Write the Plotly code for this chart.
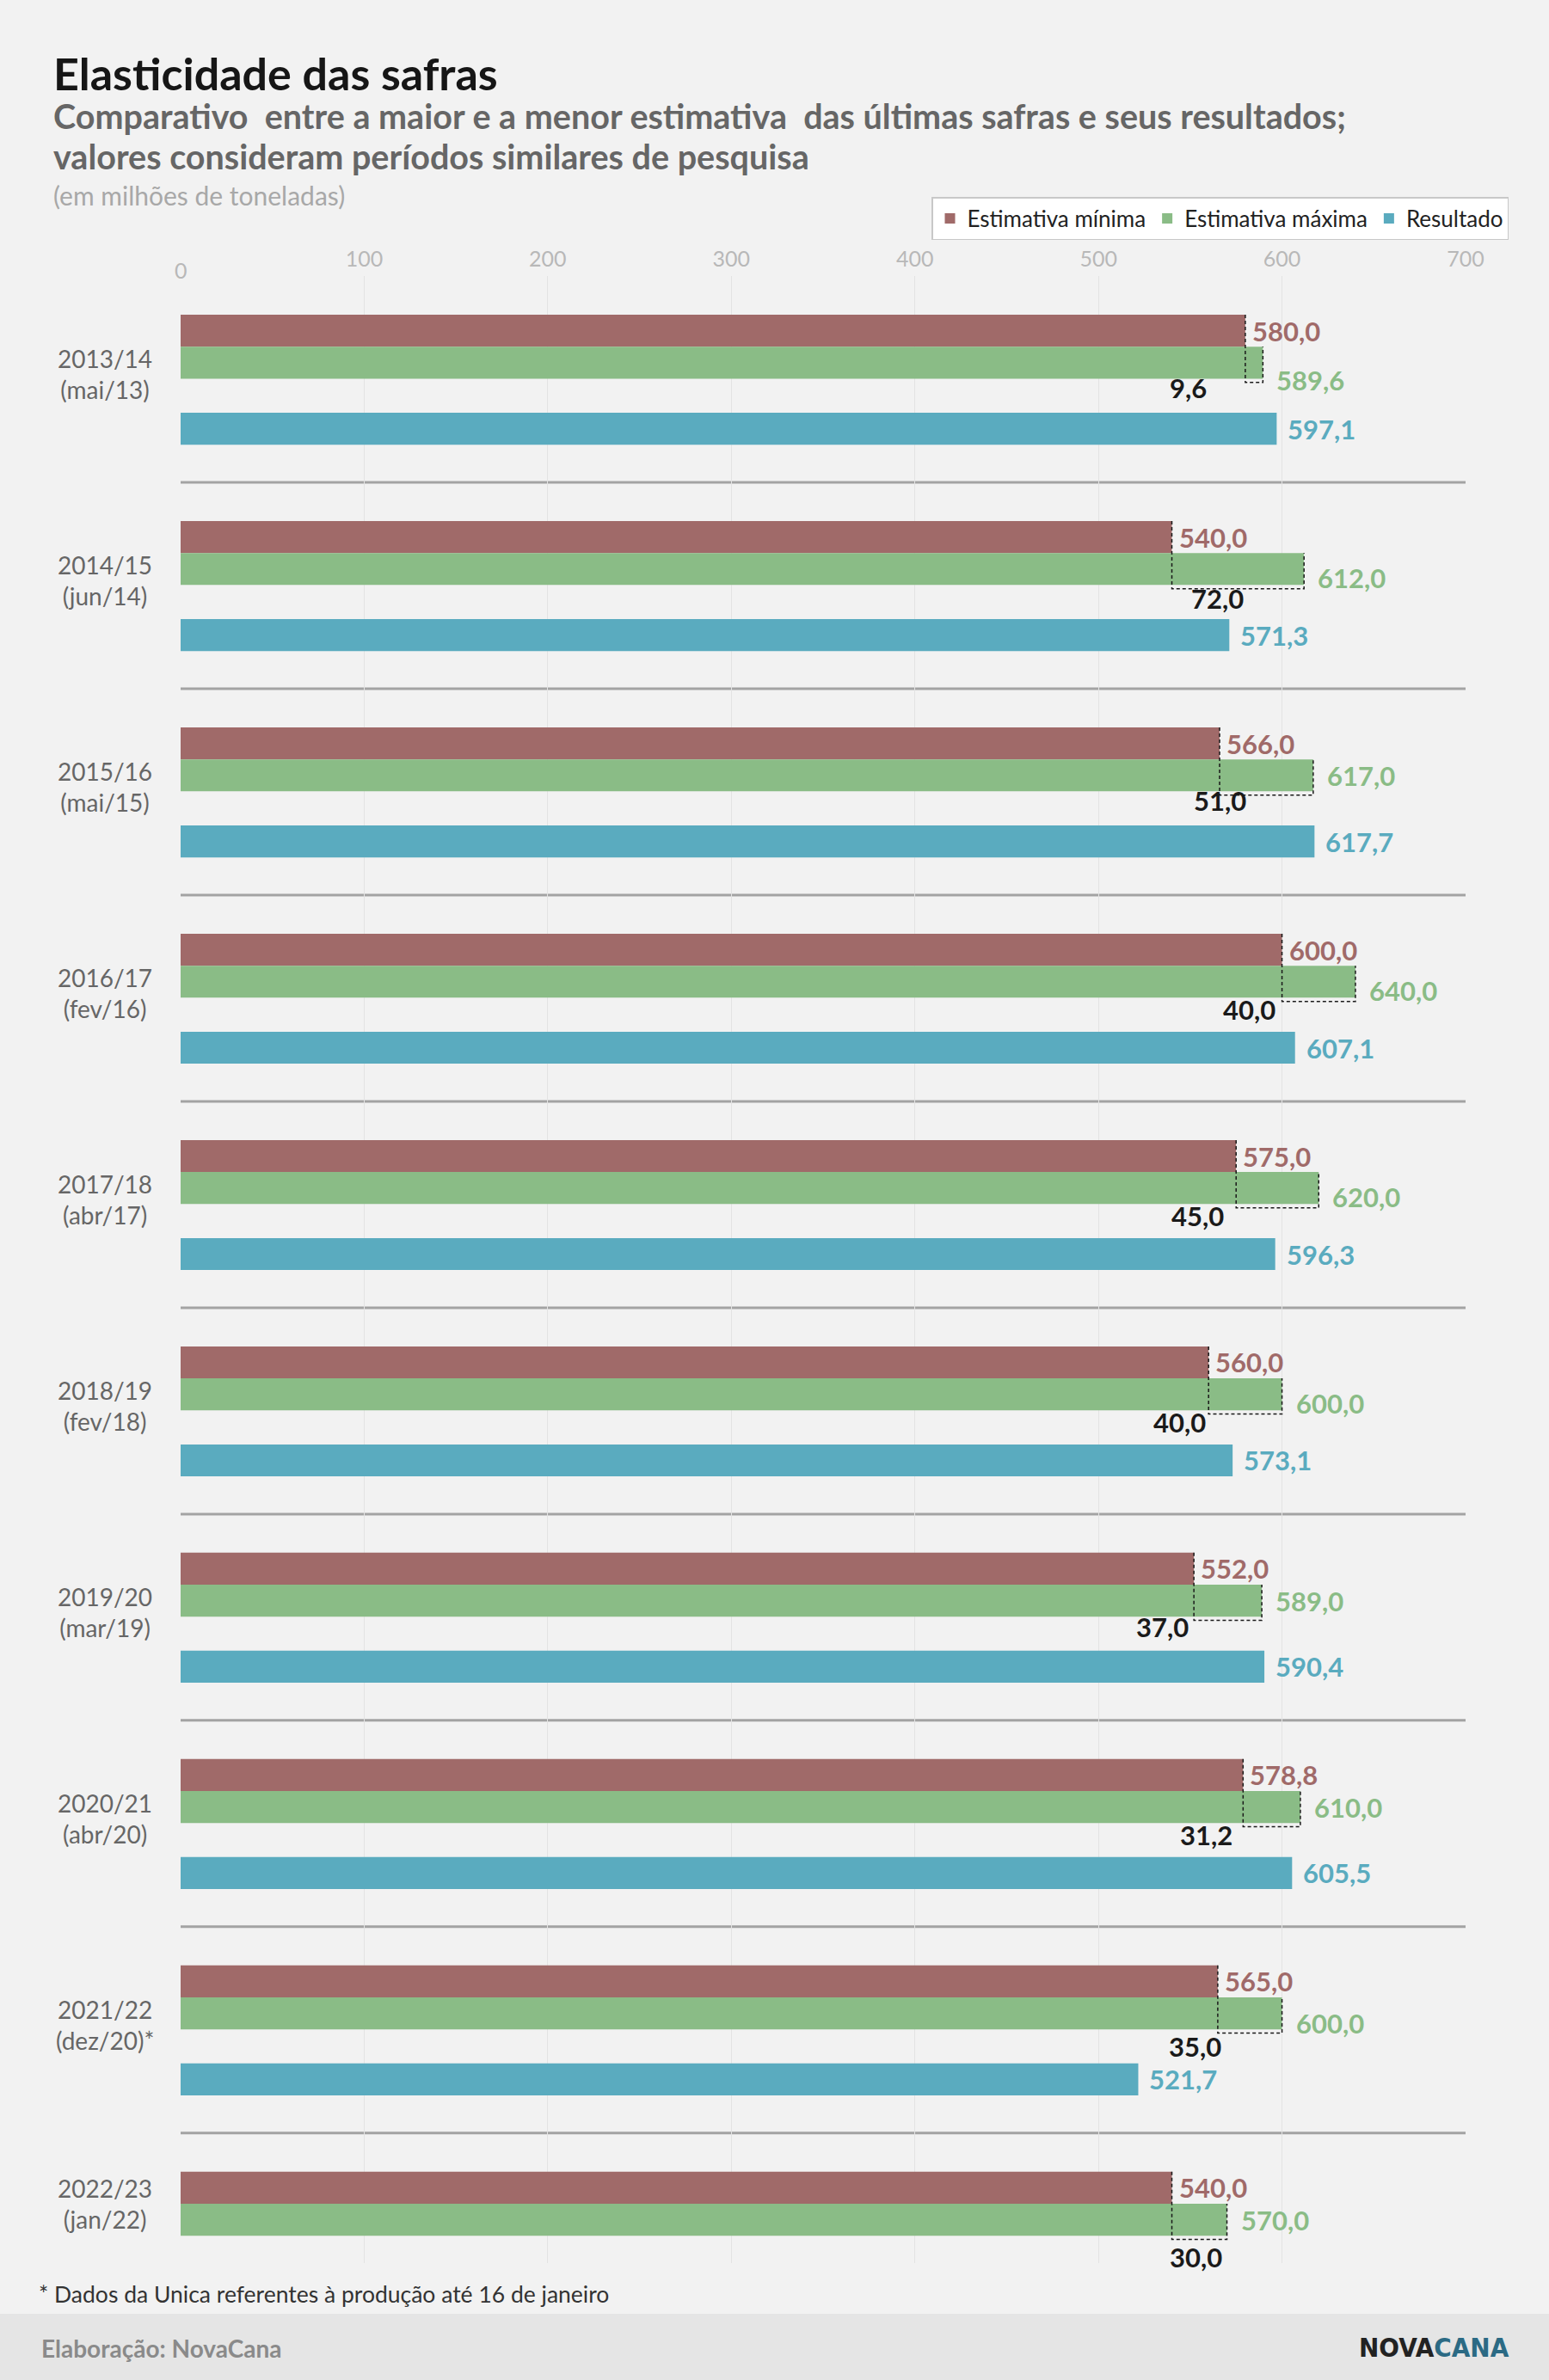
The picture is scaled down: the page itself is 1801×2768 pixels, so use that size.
import plotly.graph_objects as go

# dados (milhões de toneladas)
safras = ["2013/14", "2014/15", "2015/16", "2016/17", "2017/18",
          "2018/19", "2019/20", "2020/21", "2021/22", "2022/23"]
meses_pesquisa = ["(mai/13)", "(jun/14)", "(mai/15)", "(fev/16)", "(abr/17)",
                  "(fev/18)", "(mar/19)", "(abr/20)", "(dez/20)*", "(jan/22)"]
estimativa_min = [580.0, 540.0, 566.0, 600.0, 575.0, 560.0, 552.0, 578.8, 565.0, 540.0]
estimativa_max = [589.6, 612.0, 617.0, 640.0, 620.0, 600.0, 589.0, 610.0, 600.0, 570.0]
resultado = [597.1, 571.3, 617.7, 607.1, 596.3, 573.1, 590.4, 605.5, 521.7, None]
eixo_ticks = [0, 100, 200, 300, 400, 500, 600, 700]

COR_MIN = "#a06a69"
COR_MAX = "#8abc86"
COR_RES = "#5aabbf"
FUNDO = "#f2f2f2"
FONTE = "Lato"

W, H = 1801, 2768
L, R, T, B = 210, 1704, 321, 2632  # area do grafico em pixels


def fx(p):
    return (p - L) / (R - L)


def fy(p):
    return (B - p) / (B - T)


def br(v):
    return f"{v:.1f}".replace(".", ",")


n = len(safras)
larg = 0.155
pos_min = [i + 0.265 for i in range(n)]
pos_max = [i + 0.42 for i in range(n)]
pos_res = [i + 0.74 for i in range(n)]

fig = go.Figure()
fig.add_trace(go.Bar(y=pos_min, x=estimativa_min, orientation="h", width=larg,
                     name="Estimativa mínima", marker=dict(color=COR_MIN, line_width=0)))
fig.add_trace(go.Bar(y=pos_max, x=estimativa_max, orientation="h", width=larg,
                     name="Estimativa máxima", marker=dict(color=COR_MAX, line_width=0)))
fig.add_trace(go.Bar(y=pos_res, x=resultado, orientation="h", width=larg,
                     name="Resultado", marker=dict(color=COR_RES, line_width=0)))

# ajustes manuais dos rotulos (px)
dif_dx = [-66, 53, 0, -38, -45, -34, -37, -43, -26, 28]
dif_dy = [11, 16, 11, 14, 14, 14, 12, 14, 20, 25]
max_dy = [20, 10, 0, 10, 10, 10, 0, 0, 11, 0]

anns = []
for i in range(n):
    mn, mx, rs = estimativa_min[i], estimativa_max[i], resultado[i]

    # separador entre safras
    if i > 0:
        fig.add_shape(type="line", x0=0, x1=700, y0=i, y1=i,
                      line=dict(color="#a3a3a3", width=3), layer="below")

    # colchete tracejado da diferenca
    y_top = pos_min[i] - larg / 2
    y_bot = pos_max[i] + larg / 2 + 0.018
    fig.add_shape(type="path",
                  path=f"M {mn},{y_top} L {mn},{y_bot} L {mx},{y_bot} L {mx},{pos_max[i] - larg / 2}",
                  line=dict(color="#1a1a1a", width=1.5, dash="4px,3px"), layer="above")

    anns.append(dict(x=mn, y=pos_min[i], text=f"<b>{br(mn)}</b>", xanchor="left", yanchor="middle",
                     xshift=6, font=dict(size=31, color=COR_MIN)))
    anns.append(dict(x=mx, y=pos_max[i], text=f"<b>{br(mx)}</b>", xanchor="left", yanchor="middle",
                     xshift=14, yshift=-max_dy[i], font=dict(size=31, color=COR_MAX)))
    anns.append(dict(x=mn, y=pos_max[i] + larg / 2, text=f"<b>{br(mx - mn)}</b>", xanchor="center",
                     yanchor="middle", xshift=dif_dx[i], yshift=-dif_dy[i],
                     font=dict(size=31, color="#1a1a1a")))
    posicoes = [pos_min[i], pos_max[i]]
    if rs is not None:
        posicoes.append(pos_res[i])
        anns.append(dict(x=rs, y=pos_res[i], text=f"<b>{br(rs)}</b>", xanchor="left", yanchor="middle",
                         xshift=11, font=dict(size=31, color=COR_RES)))

    # rotulo da safra
    anns.append(dict(x=fx(122), xref="paper", y=sum(posicoes) / len(posicoes),
                     text=f"{safras[i]}<br>{meses_pesquisa[i]}", xanchor="center", yanchor="middle",
                     font=dict(size=28, color="#666666")))

# rotulo 0 do eixo (um pouco abaixo dos outros)
anns.append(dict(x=0, y=fy(314), yref="paper", text="0", xanchor="center", yanchor="middle",
                 font=dict(size=25, color="#b8b8b8")))

# titulos e rodape (coordenadas de papel)
textos = [
    dict(x=fx(60), y=fy(85), text="<b>Elasticidade das safras</b>",
         font=dict(size=52, color="#161616")),
    dict(x=fx(60), y=fy(134), text="<b>Comparativo  entre a maior e a menor estimativa  das últimas safras e seus resultados;</b>",
         font=dict(size=39.5, color="#666666")),
    dict(x=fx(60), y=fy(182), text="<b>valores consideram períodos similares de pesquisa</b>",
         font=dict(size=39.5, color="#666666")),
    dict(x=fx(60), y=fy(227), text="(em milhões de toneladas)",
         font=dict(size=30, color="#a8a8a8")),
    dict(x=fx(43), y=fy(2668), text="* Dados da Unica referentes à produção até 16 de janeiro",
         font=dict(size=26.5, color="#333333")),
    dict(x=fx(46), y=fy(2731), text="<b>Elaboração: NovaCana</b>",
         font=dict(size=28, color="#8a8a8a")),
]
for t in textos:
    t.update(xref="paper", yref="paper", xanchor="left", yanchor="middle")
anns += textos
anns.append(dict(x=fx(1757), y=fy(2730), xref="paper", yref="paper",
                 text="<b>NOVA<span style='color:#2b6a84'>CANA</span></b>",
                 xanchor="right", yanchor="middle",
                 font=dict(size=31, color="#222222",
                           family="Liberation Sans Narrow, DejaVu Sans Condensed")))

for a in anns:
    a.setdefault("xref", "x")
    a.setdefault("yref", "y")
    a["showarrow"] = False
    a["font"].setdefault("family", FONTE)

# faixa do rodape
fig.add_shape(type="rect", xref="paper", yref="paper", x0=fx(0), x1=fx(W), y0=fy(H), y1=fy(2691),
              fillcolor="#e5e5e5", line_width=0, layer="below")

fig.update_layout(
    width=W, height=H,
    margin=dict(l=L, r=W - R, t=T, b=H - B, pad=0),
    paper_bgcolor=FUNDO, plot_bgcolor=FUNDO,
    font=dict(family=FONTE),
    barmode="overlay",
    annotations=anns,
    hovermode=False,
    legend=dict(orientation="h", x=fx(1754), xanchor="right", y=fy(229), yanchor="top",
                bgcolor="white", bordercolor="#c8c8c8", borderwidth=1.5,
                font=dict(family=FONTE, size=26, color="#222222"), traceorder="normal",
                tracegroupgap=0),
    xaxis=dict(range=[0, 700], side="top", tickvals=eixo_ticks,
               ticktext=[""] + [str(t) for t in eixo_ticks[1:]],
               showgrid=True, gridcolor="#e3e3e3", gridwidth=1, zeroline=False, showline=False,
               ticks="", ticklabelstandoff=5,
               tickfont=dict(family=FONTE, size=25, color="#b8b8b8"), fixedrange=True),
    yaxis=dict(range=[9.63, 0], visible=False, fixedrange=True),
)

fig.write_html("out.html", config={"displayModeBar": False},
               post_script="document.body.style.margin='0';")
